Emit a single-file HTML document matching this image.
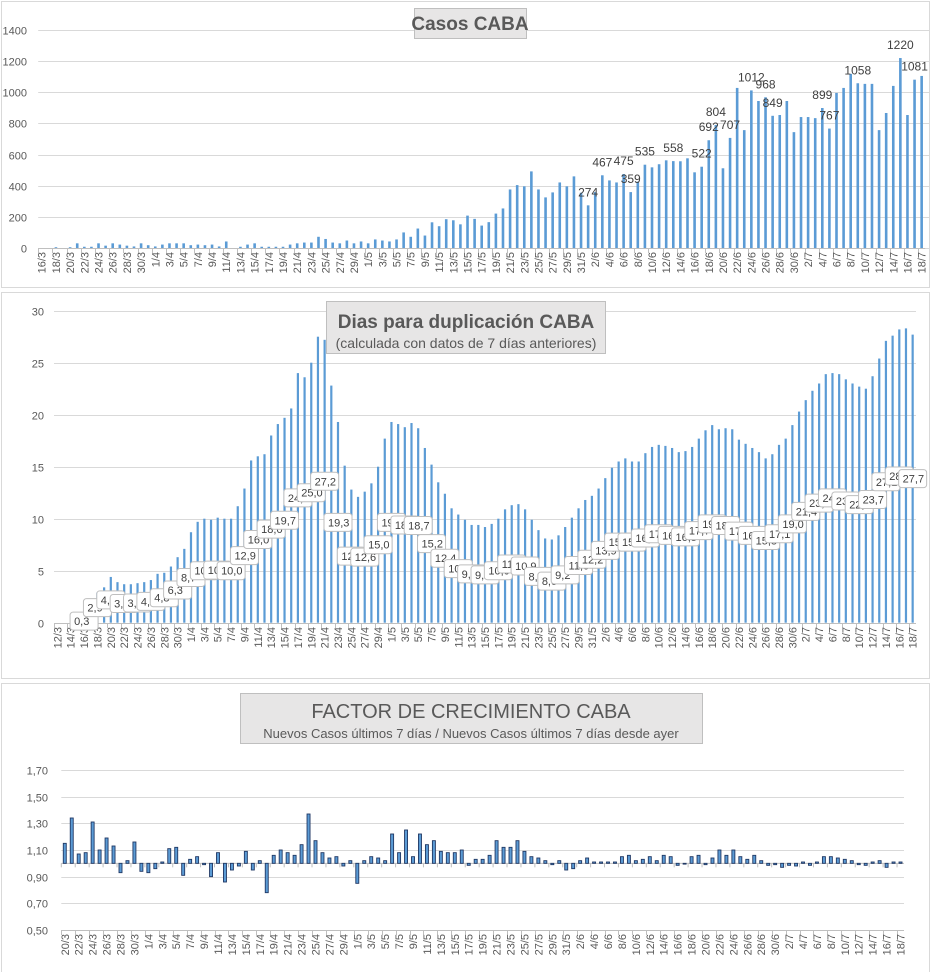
<!DOCTYPE html>
<html><head><meta charset="utf-8">
<style>
html,body{margin:0;padding:0;background:#fff;}
svg{display:block;font-family:"Liberation Sans",Calibri,sans-serif;}
text{fill:#595959;}
</style></head>
<body>
<svg id="svg" width="932" height="972" viewBox="0 0 932 972" xmlns="http://www.w3.org/2000/svg">
<rect x="1.5" y="1.5" width="928" height="286" fill="#fff" stroke="#d9d9d9"/>
<rect x="1.5" y="292.5" width="928" height="386" fill="#fff" stroke="#d9d9d9"/>
<rect x="1.5" y="683.5" width="928" height="290" fill="#fff" stroke="#d9d9d9"/>
<g id="c1"></g>
<g id="c2"></g>
<g id="c3"></g>
<rect x="414.5" y="8.5" width="112" height="30" fill="#e7e6e6" stroke="#bfbfbf"/>
<text x="470" y="30" text-anchor="middle" font-size="19" font-weight="bold">Casos  CABA</text>
<rect x="326.5" y="301.5" width="279" height="52" fill="#e7e6e6" stroke="#bfbfbf"/>
<text x="466" y="328" text-anchor="middle" font-size="19" font-weight="bold">Dias para duplicación CABA</text>
<text x="466" y="348" text-anchor="middle" font-size="14">(calculada con datos de 7 días anteriores)</text>
<rect x="240.5" y="693.5" width="462" height="50" fill="#e7e6e6" stroke="#bfbfbf"/>
<text x="471" y="718" text-anchor="middle" font-size="20">FACTOR DE CRECIMIENTO CABA</text>
<text x="471" y="738" text-anchor="middle" font-size="13">Nuevos Casos últimos 7 días / Nuevos Casos últimos 7 días desde ayer</text>
</svg>
<script>
// ---------- Chart 1: Casos CABA ----------
const casosStart = [16, 3];
const casosCount = 125;
const casosValues = [0,0,5,0,5,30,8,8,30,15,30,22,15,10,30,18,
10,22,30,30,30,18,22,18,22,10,42,0,8,22,30,8,8,8,8,22,30,35,35,72,58,35,30,48,30,42,
30,55,48,42,55,100,72,125,80,165,140,185,178,152,
208,187,144,166,221,254,376,404,396,492,376,325,357,421,396,460,355,
274,359,467,434,421,475,359,426,535,518,538,563,558,557,576,486,522,692,790,512,707,1028,757,1012,944,968,849,854,944,744,
841,841,834,899,767,996,1028,1118,1058,1054,1054,757,867,1041,1220,854,1081,1105];
const casosLabelIdx = [77,79,82,83,85,89,93,94,95,97,100,102,103,110,111,115,121,123];
const casosLabelText = ["274","467","475","359","535","558","522","692","804","707","1012","968","849","899","767","1058","1220","1081"];
const casosTicks = [0,200,400,600,800,1000,1200,1400];

// ---------- Chart 2: Dias para duplicacion ----------
const dupStart = [12, 3];
const dupValues = [0,0,0,0,0.3,0.5,2.9,3.4,4.4,3.9,3.7,3.7,3.8,3.9,4.1,4.7,4.8,5.4,6.3,7.1,8.7,9.7,10.0,9.9,10.1,10.0,10.0,11.2,12.9,15.6,16.0,16.2,18.0,19.1,19.7,20.6,24.0,23.6,25.0,27.5,27.2,22.8,19.3,15.1,12.8,12.1,12.6,13.4,15.0,17.7,19.3,19.1,18.8,19.2,18.7,16.8,15.2,13.5,12.4,11.0,10.4,9.9,
9.4,9.4,9.2,9.5,10.0,10.9,11.3,11.4,10.9,9.9,8.9,8.1,8.0,8.4,9.2,10.1,11.0,11.8,12.2,12.9,13.9,14.9,15.5,15.8,15.5,15.5,16.3,16.9,17.1,17.0,16.8,16.4,16.5,16.9,17.7,18.5,19.0,18.6,18.7,18.6,17.6,17.2,16.8,16.4,15.8,16.2,17.1,17.7,19.0,20.3,21.4,22.3,23.0,23.9,24.0,23.9,23.4,23.0,22.7,22.5,23.7,25.4,27.1,27.6,28.2,28.3,27.7];
const dupTicks = [0,5,10,15,20,25,30];

// ---------- Chart 3: Factor de crecimiento ----------
const facStart = [20, 3];
const facValues = [1.15,1.34,1.07,1.08,1.31,1.10,1.19,1.13,0.93,1.02,1.16,0.94,0.93,0.96,1.01,1.11,1.12,0.91,1.03,1.05,0.99,0.90,1.08,0.86,0.95,0.98,1.09,0.95,1.02,0.78,1.06,1.10,1.08,1.06,1.14,1.37,1.17,1.08,1.04,1.05,0.98,1.02,0.85,1.02,1.05,1.04,1.02,1.22,1.08,1.25,1.05,1.22,1.14,1.17,1.09,1.08,1.08,1.10,
0.985,1.03,1.03,1.06,1.17,1.12,1.12,1.17,1.09,1.05,1.04,1.02,0.99,1.02,0.95,0.96,1.02,1.04,1.01,1.01,1.01,1.01,1.05,1.06,1.02,1.03,1.05,1.02,1.06,1.05,0.985,1.00,1.05,1.06,0.99,1.04,1.10,1.06,1.10,1.05,1.03,1.06,1.02,0.985,0.99,0.97,0.985,0.98,1.01,0.985,1.01,1.05,1.05,1.04,1.03,1.02,0.99,0.985,1.01,1.02,0.97,1.01,1.01];
const facTicks = [0.5,0.7,0.9,1.1,1.3,1.5,1.7];

const NS = "http://www.w3.org/2000/svg";
function mk(parent, tag, attrs, txt) {
  const e = document.createElementNS(NS, tag);
  for (const k in attrs) e.setAttribute(k, attrs[k]);
  if (txt !== undefined) e.textContent = txt;
  parent.appendChild(e);
  return e;
}
const monthLen = {3:31,4:30,5:31,6:30,7:31};
function dateLabels(start, n) {
  const out = []; let d = start[0], m = start[1];
  for (let i = 0; i < n; i++) {
    out.push(d + "/" + m);
    d++; if (d > monthLen[m]) { d = 1; m++; }
  }
  return out;
}
function fmt(v, dec) { return v.toFixed(dec).replace(".", ","); }

function drawAxes(g, name, x0, x1, yFn, ticks, gridRight, labelX, dec, cats, xBand, axisY, n) {
  ticks.forEach(t => {
    const y = Math.round(yFn(t)) + 0.5;
    const gl = mk(g, "line", {x1: x0, x2: gridRight, y1: y, y2: y, stroke: "#d9d9d9", "stroke-width": 1});
    
    
    const tl = mk(g, "text", {x: labelX, y: y + 4, "text-anchor": "end", "font-size": 11}, fmt(t, dec));
    
    
  });
  const ax = mk(g, "line", {x1: x0, x2: x1, y1: axisY + 0.5, y2: axisY + 0.5, stroke: "#bfbfbf"});
  
  
  for (let i = 0; i < n; i += 2) {
    const tx = Math.round(x0 + i * xBand) + 0.5;
    const tk = mk(g, "line", {x1: tx, x2: tx, y1: axisY, y2: axisY + 5, stroke: "#bfbfbf"});
    
    
    const cx = x0 + (i + 0.5) * xBand + 4;
    const lb = mk(g, "text", {x: 0, y: 0, "text-anchor": "end", "font-size": 11,
      transform: "translate(" + cx + "," + (axisY + 4) + ") rotate(-90)"}, cats[i]);
    
    
  }
}

// Chart 1
(function(){
  const g = document.getElementById("c1");
  const n = casosValues.length;
  const cats = dateLabels(casosStart, n);
  const x0 = 38.2, x1 = 925.2, band = (x1 - x0) / n;
  const yBase = 248, yTop = 30;
  const y = v => yBase - v / 1400 * (yBase - yTop);
  drawAxes(g, "casos", x0, x1, y, casosTicks, 930, 27, 0, cats, band, yBase, n);
  casosValues.forEach((v, i) => {
    const cx = x0 + (i + 0.5) * band;
    const b = mk(g, "rect", {x: cx - 1.3, y: y(v), width: 2.6, height: yBase - y(v), fill: "#5b9bd5"});
    
    
  });
  casosLabelIdx.forEach((idx, k) => {
    const cx = x0 + (idx + 0.5) * band;
    const t = mk(g, "text", {x: cx, y: y(casosValues[idx]) - 9, "text-anchor": "middle", "font-size": 12, style: "fill:#404040"}, casosLabelText[k]);
    
    
  });
})();

// Chart 2
(function(){
  const g = document.getElementById("c2");
  const n = dupValues.length;
  const cats = dateLabels(dupStart, n);
  const x0 = 54, x1 = 916, band = (x1 - x0) / n;
  const yBase = 622.7, yTop = 310.7;
  const y = v => yBase - v / 30 * (yBase - yTop);
  drawAxes(g, "duplicacion", x0, x1, y, dupTicks, 916, 44, 0, cats, band, Math.round(yBase), n);
  dupValues.forEach((v, i) => {
    const cx = x0 + (i + 0.5) * band;
    const b = mk(g, "rect", {x: cx - 1.1, y: y(v), width: 2.2, height: yBase - y(v), fill: "#5b9bd5"});
    
    
  });
  for (let i = 4; i < n; i += 2) {
    const v = dupValues[i];
    const cx = x0 + (i + 0.5) * band;
    const cy = y(v / 2);
    const bx = mk(g, "rect", {x: cx - 14, y: cy - 9, width: 28, height: 18, rx: 3, fill: "#fff", stroke: "#bfbfbf"});
    
    
    const t = mk(g, "text", {x: cx - 10, y: cy + 4, "font-size": 11, style: "fill:#404040"}, fmt(v, 1));
    
    
  }
})();

// Chart 3
(function(){
  const g = document.getElementById("c3");
  const n = facValues.length;
  const cats = dateLabels(facStart, n);
  const x0 = 61.3, x1 = 904, band = (x1 - x0) / n;
  const y = v => 930 - (v - 0.5) / 1.2 * 160;
  const base = y(1.0);
  drawAxes(g, "factor", x0, x1, y, facTicks, 904, 48, 2, cats, band, 930, n);
  const ax = mk(g, "line", {x1: x0, x2: x1, y1: base, y2: base, stroke: "#bfbfbf"});
  
  
  for (let i = 0; i < n; i += 2) {
    const tx = x0 + i * band;
    const tk = mk(g, "line", {x1: tx, x2: tx, y1: base, y2: base + 4, stroke: "#bfbfbf"});
    
    
  }
  facValues.forEach((v, i) => {
    const cx = x0 + (i + 0.5) * band;
    const top = Math.min(y(v), base), h = Math.max(Math.abs(y(v) - base), 0.8);
    const b = mk(g, "rect", {x: cx - 1.5, y: top, width: 3, height: h, fill: "#5b9bd5", stroke: "#203864", "stroke-width": 0.9});
    
    
  });
})();
</script>
</body></html>
